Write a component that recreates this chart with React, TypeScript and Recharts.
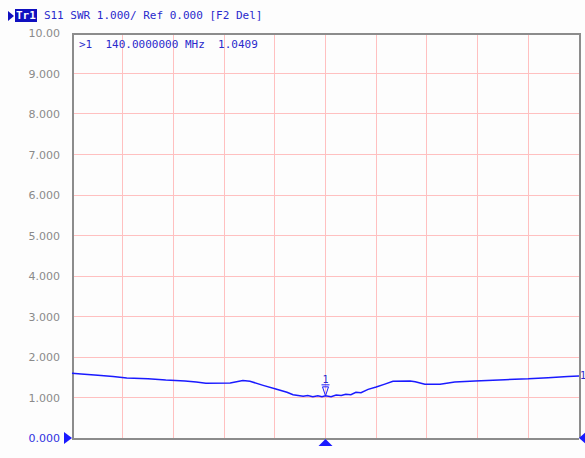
import React from "react";
import {
  LineChart,
  Line,
  XAxis,
  YAxis,
  ReferenceDot,
  ReferenceLine,
} from "recharts";

// Frequency (MHz) of each trace point and SWR value
const freqMHz = [
  90.0, 91.8, 95.1, 98.1, 100.8, 105.0, 108.5, 112.3, 114.5, 116.4, 121.2, 123.7,
  125.1, 127.7, 130.2, 132.4, 133.6, 134.6, 135.6, 136.5, 137.5, 138.5, 139.3,
  140.0, 141.1, 142.1, 143.1, 144.0, 145.0, 146.0, 147.0, 148.4, 150.0, 151.7,
  153.3, 156.7, 157.7, 159.6, 162.6, 165.5, 169.5, 175.4, 180.0, 183.9, 187.8,
  190.0,
];
const swr = [
  1.6, 1.58, 1.55, 1.52, 1.48, 1.46, 1.43, 1.41, 1.38, 1.35, 1.36, 1.42, 1.4,
  1.3, 1.21, 1.13, 1.07, 1.05, 1.03, 1.05, 1.02, 1.04, 1.02, 1.0409, 1.02, 1.06,
  1.05, 1.08, 1.07, 1.13, 1.12, 1.2, 1.26, 1.33, 1.4, 1.41, 1.39, 1.33, 1.33,
  1.38, 1.41, 1.44, 1.46, 1.49, 1.52, 1.53,
];
const xTicks = [90, 100, 110, 120, 130, 140, 150, 160, 170, 180, 190];
const yTicks = [0, 1, 2, 3, 4, 5, 6, 7, 8, 9, 10];
const markerFreq = 140;
const markerValue = 1.0409;
const headerText = "S11 SWR 1.000/ Ref 0.000 [F2 Del]";
const markerText = ">1  140.0000000 MHz  1.0409";

const data = freqMHz.map((f, i) => ({ f, v: swr[i] }));

const BLUE = "#1a1aff";
const TEXT_BLUE = "#2a2acc";
const GRID = "#ffc0c0";
const BORDER = "#8c8c8c";

const snap = (v: number) => Math.floor(v) + 0.5;

const makeLine = (color: string, width: number) => (props: any) => {
  const { x1, x2, y1, y2 } = props;
  const horiz = Math.abs(y1 - y2) < 0.01;
  if (horiz) {
    const y = snap(y1);
    return <line x1={x1} x2={x2} y1={y} y2={y} stroke={color} strokeWidth={width} shapeRendering="crispEdges" />;
  }
  const x = snap(x1);
  return <line x1={x} x2={x} y1={y1} y2={y2} stroke={color} strokeWidth={width} shapeRendering="crispEdges" />;
};
const GridShape = makeLine(GRID, 1);
const BorderShape = makeLine(BORDER, 2);

const YTick = (props: any) => {
  const { x, y, payload } = props;
  const v = payload.value;
  const label = v === 10 ? "10.00" : v.toFixed(3);
  return (
    <text
      x={x}
      y={y}
      dy={4}
      textAnchor="end"
      fontSize={11}
      fontFamily="DejaVu Sans, Verdana, sans-serif"
      fill={v === 0 ? "#3030e0" : "#8a8a8a"}
    >
      {label}
    </text>
  );
};

const MarkerShape = (props: any) => {
  const { cx, cy } = props;
  return (
    <g>
      <text
        x={cx}
        y={cy - 13}
        textAnchor="middle"
        fontSize={10}
        fontFamily="DejaVu Sans Mono, monospace"
        fill={TEXT_BLUE}
      >
        1
      </text>
      <line x1={cx - 4} y1={cy - 11} x2={cx + 4} y2={cy - 11} stroke={BLUE} strokeWidth={1} />
      <path
        d={`M${cx - 3},${cy - 9} L${cx + 3},${cy - 9} L${cx},${cy} Z`}
        fill="none"
        stroke={BLUE}
        strokeWidth={1}
      />
    </g>
  );
};

const BottomTri = (props: any) => {
  const { cx, cy } = props;
  return <path d={`M${cx - 7},${cy + 8} L${cx + 7},${cy + 8} L${cx},${cy + 1} Z`} fill={BLUE} />;
};

const LeftTri = (props: any) => {
  const { cx, cy } = props;
  return <path d={`M${cx - 8},${cy - 6} L${cx - 8},${cy + 6} L${cx},${cy} Z`} fill={BLUE} />;
};

const RightTri = (props: any) => {
  const { cx, cy } = props;
  return <path d={`M${cx + 7},${cy - 6} L${cx + 7},${cy + 6} L${cx},${cy} Z`} fill={BLUE} />;
};

const RightLabel = (props: any) => {
  const { cx, cy } = props;
  return (
    <text
      x={cx + 1}
      y={cy + 3}
      fontSize={10}
      fontFamily="DejaVu Sans Mono, monospace"
      fill={TEXT_BLUE}
    >
      1
    </text>
  );
};

const innerY = yTicks.slice(1, -1);
const innerX = xTicks.slice(1, -1);
const edgeY = [yTicks[0], yTicks[yTicks.length - 1]];
const edgeX = [xTicks[0], xTicks[xTicks.length - 1]];

export default function App() {
  return (
    <div
      style={{
        position: "absolute",
        left: 0,
        top: 0,
        width: 585,
        height: 458,
        background: "#fdfdfd",
        overflow: "hidden",
      }}
    >
      <LineChart
        width={585}
        height={458}
        data={data}
        margin={{ top: 33, right: 6, bottom: 20, left: 0 }}
      >
        <XAxis
          dataKey="f"
          type="number"
          domain={[90, 190]}
          ticks={xTicks}
          interval={0}
          tickFormatter={() => ""}
          tickLine={false}
          axisLine={false}
          height={0}
        />
        <YAxis
          type="number"
          domain={[0, 10]}
          ticks={yTicks}
          interval={0}
          width={72}
          tickSize={0}
          tickMargin={12}
          axisLine={false}
          tickLine={false}
          tick={<YTick />}
        />
        {innerY.map((t) => (
          <ReferenceLine key={"h" + t} y={t} shape={<GridShape />} />
        ))}
        {innerX.map((t) => (
          <ReferenceLine key={"v" + t} x={t} shape={<GridShape />} />
        ))}
        {edgeY.map((t) => (
          <ReferenceLine key={"eh" + t} y={t} shape={<BorderShape />} />
        ))}
        {edgeX.map((t) => (
          <ReferenceLine key={"ev" + t} x={t} shape={<BorderShape />} />
        ))}
        <Line
          type="linear"
          dataKey="v"
          stroke={BLUE}
          strokeWidth={1.5}
          dot={false}
          isAnimationActive={false}
        />
        <ReferenceDot x={markerFreq} y={markerValue} ifOverflow="visible" shape={<MarkerShape />} />
        <ReferenceDot x={markerFreq} y={0} ifOverflow="visible" shape={<BottomTri />} />
        <ReferenceDot x={90} y={0} ifOverflow="visible" shape={<LeftTri />} />
        <ReferenceDot x={190} y={0} ifOverflow="visible" shape={<RightTri />} />
        <ReferenceDot x={190} y={swr[swr.length - 1]} ifOverflow="visible" shape={<RightLabel />} />
      </LineChart>
      <div
        style={{
          position: "absolute",
          left: 8,
          top: 9,
          display: "flex",
          alignItems: "center",
          fontFamily: "DejaVu Sans Mono, monospace",
          fontSize: 11,
          color: TEXT_BLUE,
          whiteSpace: "pre",
          lineHeight: "13px",
        }}
      >
        <svg width={6} height={10} style={{ marginRight: 1 }}>
          <path d="M0,0 L6,5 L0,10 Z" fill="#1010c0" />
        </svg>
        <span
          style={{
            background: "#1010c0",
            color: "#ffffff",
            fontWeight: "bold",
            padding: "0 1px",
            marginRight: 7,
          }}
        >
          Tr1
        </span>
        <span>{headerText}</span>
      </div>
      <div
        style={{
          position: "absolute",
          left: 79,
          top: 38,
          fontFamily: "DejaVu Sans Mono, monospace",
          fontSize: 11,
          color: TEXT_BLUE,
          whiteSpace: "pre",
          lineHeight: "13px",
        }}
      >
        {markerText}
      </div>
    </div>
  );
}
